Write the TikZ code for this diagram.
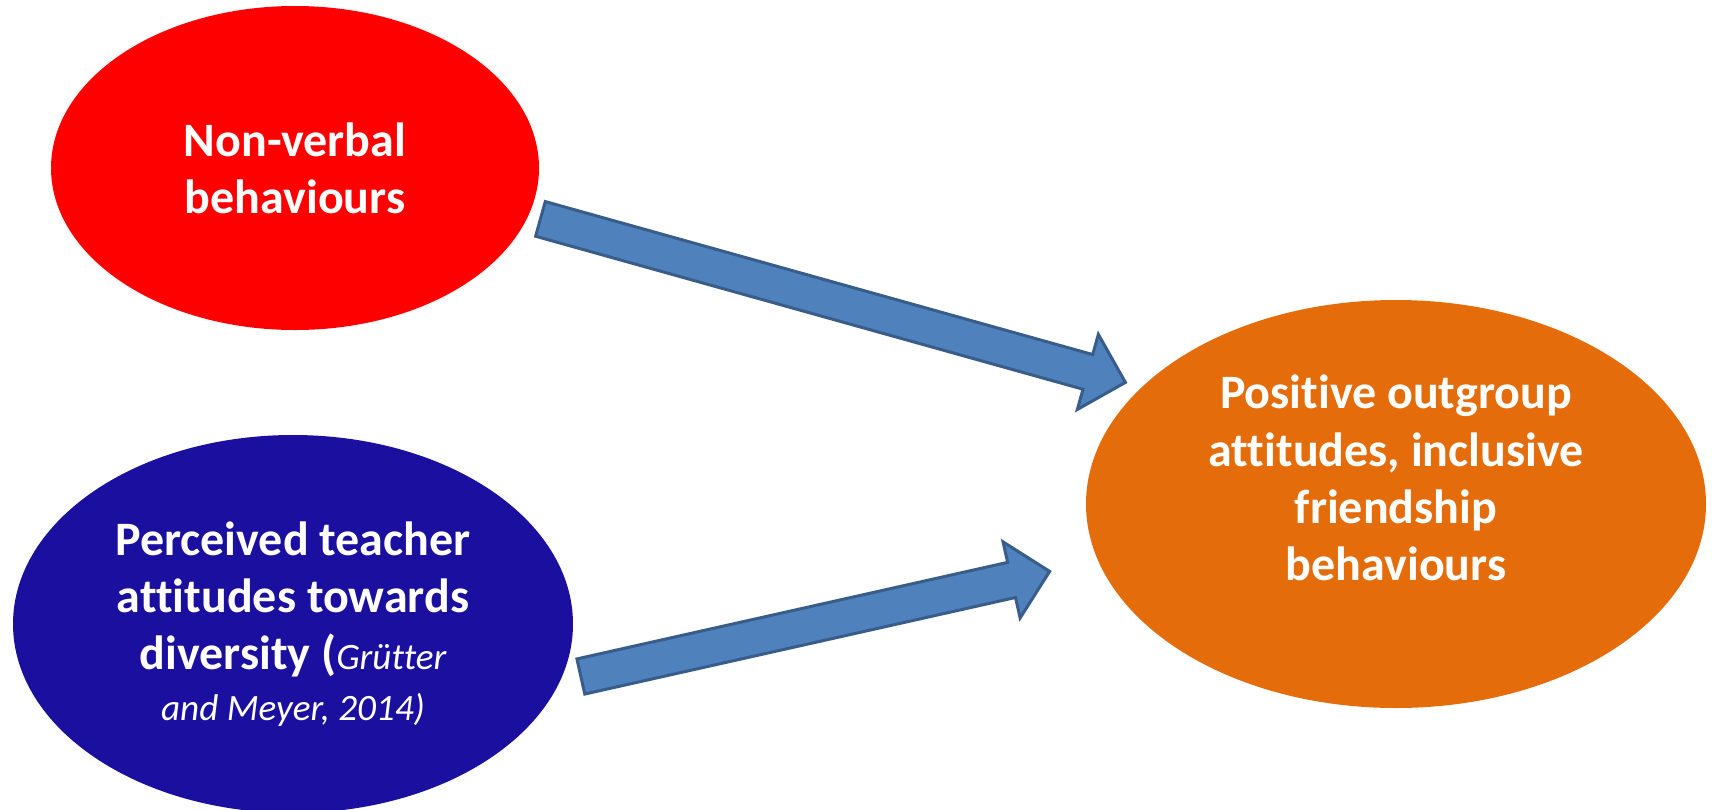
\documentclass[tikz,border=0pt]{standalone}
\usepackage{fontspec}
\setmainfont{Carlito}[Ligatures=NoCommon]
\usetikzlibrary{shapes.geometric,shapes.arrows,positioning,calc}

\definecolor{nvred}{HTML}{FF0000}
\definecolor{tchblue}{HTML}{1A0F9E}
\definecolor{outorange}{HTML}{E46C0A}
\definecolor{arrowfill}{HTML}{4F81BD}
\definecolor{arrowline}{HTML}{385D8A}

\newcommand{\bubfont}{\fontsize{24}{28.6}\selectfont\bfseries}
\newcommand{\citefont}{\fontsize{18.6}{24}\selectfont\mdseries\itshape}

\begin{document}
\begin{tikzpicture}[
    x=0.5pt, y=-0.5pt,
    bubble/.style={ellipse, inner sep=0pt, text=white, align=center, font=\bubfont},
    bubtext/.style={inner sep=0pt, text=white, align=center, font=\bubfont},
    blockarrow/.style={single arrow, draw=arrowline, fill=arrowfill, line width=1.5pt, inner sep=8.25pt, single arrow head extend=10.5pt, single arrow tip angle=90, minimum width=1pt}
]
\clip (0,0) rectangle (1713,809);

% Non-verbal behaviours
\node[bubble, fill=nvred, minimum width=244pt, minimum height=162pt] (nonverbal) at (295,168) {Non-verbal\\behaviours};

% Teacher attitudes
\node[bubble, fill=tchblue, minimum width=280pt, minimum height=189pt] (teacher) at (293,624) {Perceived teacher\\attitudes towards\\diversity ({\citefont Grütter}\\[-3pt]{\citefont and Meyer, 2014)}};

% Outcome
\node[bubble, fill=outorange, minimum width=310pt, minimum height=204pt] (outcome) at (1396,504) {};
\node[bubtext] (outcometext) at ([yshift=13pt]outcome.center) {Positive outgroup\\attitudes, inclusive\\friendship\\behaviours};

% Arrow ends
\coordinate (toptail) at (539,218.5);
\coordinate (toptip) at (1124,382);
\coordinate (bottail) at (579.4,676.8);
\coordinate (bottip) at (1048.2,571.7);

% Block arrows
\path let \p1 = ($(toptip)-(toptail)$), \n1 = {veclen(\x1,\y1)}, \n2 = {atan2(\y1,\x1)} in
    node[blockarrow, minimum height=\n1, rotate=\n2, anchor=tail] (toparrow) at (toptail) {};
\path let \p1 = ($(bottip)-(bottail)$), \n1 = {veclen(\x1,\y1)}, \n2 = {atan2(\y1,\x1)} in
    node[blockarrow, minimum height=\n1, rotate=\n2, anchor=tail] (botarrow) at (bottail) {};

\end{tikzpicture}
\end{document}
